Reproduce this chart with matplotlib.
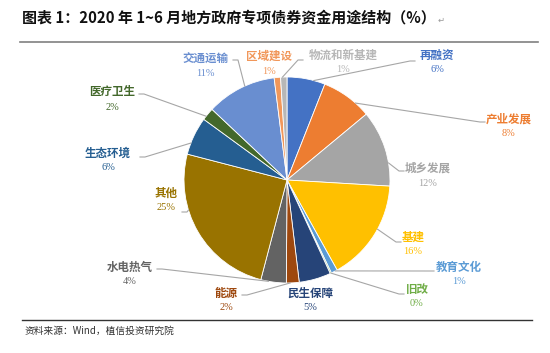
import numpy as np
import matplotlib.pyplot as plt
from matplotlib.lines import Line2D

plt.rcParams['font.family'] = ['Noto Sans CJK SC', 'DejaVu Sans']

# slices, clockwise from 12 o'clock
categories = ['再融资', '产业发展', '城乡发展', '基建', '教育文化', '旧改', '民生保障',
              '能源', '水电热气', '其他', '生态环境', '医疗卫生', '交通运输', '区域建设',
              '物流和新基建']
shares = [6, 8, 12, 16, 1, 0.2, 5, 2, 4, 25, 6, 2, 11, 1, 1]
colors = ['#4472C4', '#ED7D31', '#A5A5A5', '#FFC000', '#5B9BD5', '#70AD47', '#264478',
          '#9E480E', '#636363', '#997300', '#255E91', '#43682B', '#698ED0', '#F1975A',
          '#B7B7B7']

title = '图表 1：2020 年 1~6 月地方政府专项债券资金用途结构（%）'
source = '资料来源：Wind，植信投资研究院'

# label layout in pixels: name centre, and leader anchor (None = no leader)
W, H = 550, 353
label_pos = {
    '再融资': ((437, 55), (415, 61)),
    '产业发展': ((509, 119), (485, 122)),
    '城乡发展': ((428, 168), (404, 171)),
    '基建': ((413, 237), (401, 242)),
    '教育文化': ((459, 267), (434, 271)),
    '旧改': ((417, 289), (404, 294)),
    '民生保障': ((310, 293), None),
    '能源': ((226, 293), (242, 295)),
    '水电热气': ((130, 267), (157, 269)),
    '其他': ((166, 193), (182, 212)),
    '生态环境': ((108, 153), (140, 157)),
    '医疗卫生': ((112, 92), (139, 94)),
    '交通运输': ((205, 59), (233, 60)),
    '区域建设': ((269, 56), None),
    '物流和新基建': ((343, 55), (303, 60)),
}
cx, cy, r = 287, 180, 103


def d(px, py):
    return px, H - py


fig = plt.figure(figsize=(W / 100, H / 100), dpi=100)
ax = fig.add_axes([0, 0, 1, 1])
ax.pie(shares, colors=colors, startangle=90, counterclock=False,
       center=d(cx, cy), radius=r,
       wedgeprops=dict(linewidth=0.6, edgecolor='white'))
ax.set_xlim(0, W)
ax.set_ylim(0, H)
ax.axis('off')

total = sum(shares)
start = 0.0
for cat, val, col in zip(categories, shares, colors):
    a0 = start
    a1 = start + val / total * 360
    start = a1
    (tx, ty), anchor = label_pos[cat]
    ax.text(*d(tx, ty), cat, ha='center', va='center', fontsize=8.3,
            color=col, fontweight='bold')
    ax.text(*d(tx, ty + 15), f'{round(val)}%', ha='center', va='center',
            fontsize=7.5, color=col, family=['Liberation Serif', 'DejaVu Sans'])
    if anchor is None:
        continue
    # angle clockwise from top, towards the anchor, clamped into the slice
    ang = np.degrees(np.arctan2(anchor[0] - cx, cy - anchor[1])) % 360
    lo = a0 + (a1 - a0) * 0.3
    hi = a1 - (a1 - a0) * 0.3
    ang = min(max(ang, lo), hi)
    ex = cx + r * np.sin(np.radians(ang))
    ey = cy - r * np.cos(np.radians(ang))
    stub = -5 if anchor[0] > cx else 5
    pts = [d(ex, ey), d(anchor[0] + stub, anchor[1]), d(*anchor)]
    ax.plot([p[0] for p in pts], [p[1] for p in pts], color='#A6A6A6', lw=0.8)

fig.text(22 / W, 1 - 18 / H, title, ha='left', va='center', fontsize=10.8,
         fontweight='bold', color='#111111')
fig.text(438 / W, 1 - 20 / H, '↵', ha='left', va='center', fontsize=6,
         color='#999999', family=['DejaVu Sans'])
fig.add_artist(Line2D([20 / W, 538 / W], [1 - 41.5 / H] * 2, color='#808080', lw=1.2))
fig.add_artist(Line2D([22 / W, 532 / W], [1 - 320 / H] * 2, color='#333333', lw=1.0))
fig.text(25 / W, 1 - 331 / H, source, ha='left', va='center', fontsize=7,
         color='#333333')

fig.savefig('out.png', dpi=100, facecolor='white')
